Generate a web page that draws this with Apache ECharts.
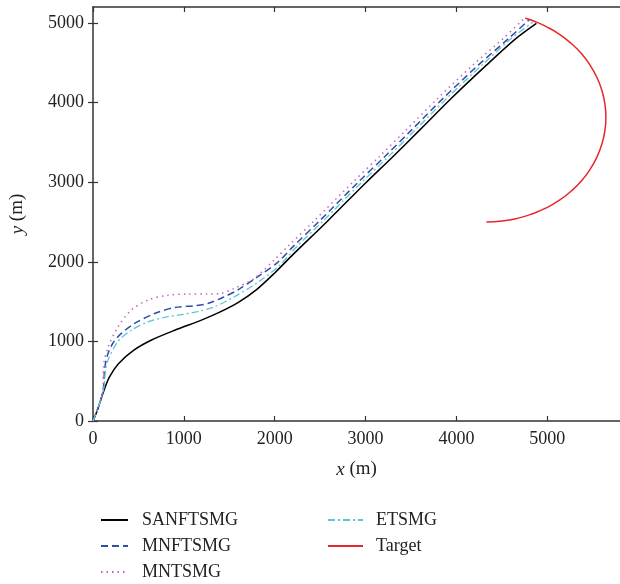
<!DOCTYPE html>
<html>
<head>
<meta charset="utf-8">
<script src="https://cdn.jsdelivr.net/npm/echarts@6/dist/echarts.min.js"></script>
<style>html,body{margin:0;padding:0;background:#fff;}#c{width:620px;height:584px;}</style>
</head>
<body>
<div id="c"></div>
<script>
var xTicks = [0, 1000, 2000, 3000, 4000, 5000];
var yTicks = [0, 1000, 2000, 3000, 4000, 5000];

var seriesNames = ['SANFTSMG', 'MNFTSMG', 'MNTSMG', 'ETSMG', 'Target'];

var sanftsmg = [[0,0],[50,140],[110,350],[180,550],[280,720],[450,890],[650,1020],[900,1140],[1200,1270],[1400,1370],[1600,1490],[1800,1650],[2000,1860],[2200,2090],[2580,2510],[3000,2990],[3300,3320],[3600,3660],[3950,4060],[4330,4470],[4650,4800],[4880,4995]];

var mnftsmg = [[0,0],[60,180],[112,390],[128,650],[160,830],[220,980],[312,1100],[458,1226],[678,1350],[897,1425],[1116,1448],[1263,1475],[1445,1560],[1592,1645],[1811,1811],[2030,1990],[2210,2200],[2490,2510],[2910,2990],[3210,3320],[3510,3660],[3860,4060],[4240,4470],[4570,4800],[4800,5040]];

var mntsmg = [[0,0],[60,180],[110,390],[115,680],[167,930],[276,1184],[422,1393],[605,1519],[825,1580],[1044,1594],[1263,1594],[1409,1603],[1555,1666],[1774,1791],[2000,2030],[2150,2200],[2430,2510],[2850,2990],[3150,3320],[3450,3660],[3800,4060],[4180,4470],[4510,4800],[4740,5050]];

var etsmg = [[0,0],[60,180],[115,390],[140,650],[170,780],[276,1000],[422,1140],[605,1245],[825,1310],[970,1335],[1153,1375],[1336,1435],[1555,1560],[1811,1740],[2050,1950],[2250,2200],[2530,2510],[2950,2990],[3250,3320],[3550,3660],[3900,4060],[4280,4470],[4600,4800],[4840,5010]];

var target = [[4330,2500],[4500,2511],[4670,2545],[4830,2600],[4988,2676],[5130,2770],[5260,2885],[5375,3015],[5469,3158],[5545,3312],[5600,3475],[5633,3643],[5645,3815],[5633,3987],[5600,4155],[5545,4318],[5469,4473],[5375,4615],[5260,4745],[5130,4860],[4988,4954],[4870,5015],[4758,5058]];

var FONT = 'Liberation Serif';
var axisColor = '#333';

var chart = echarts.init(document.getElementById('c'), null, {renderer: 'canvas'});

function lineSeries(name, data, color, type, width, smooth) {
  return {
    name: name, type: 'line', data: data, xAxisIndex: 0, yAxisIndex: 0,
    symbol: 'none', showSymbol: false, smooth: smooth, clip: false,
    lineStyle: {color: color, width: width, type: type},
    itemStyle: {color: color},
    emphasis: {disabled: true}
  };
}

var baseAxis = {
  min: 0,
  axisLine: {show: true, onZero: false, lineStyle: {color: axisColor, width: 1.5}},
  axisTick: {show: true, inside: true, length: 5, lineStyle: {color: axisColor, width: 1.2}},
  splitLine: {show: false}
};

function plain(v) { return String(v); }

var legendCommon = {
  orient: 'vertical', top: 510, height: 80, padding: 0, itemHeight: 14, itemGap: 6,
  itemStyle: {opacity: 0},
  selectedMode: false
};

chart.setOption({
  animation: false,
  grid: {left: 91, top: 7, width: 529, height: 414, show: false},
  xAxis: [
    Object.assign({}, baseAxis, {
      type: 'value', position: 'bottom', max: 5800, interval: 1000,
      axisTick: Object.assign({}, baseAxis.axisTick, {customValues: xTicks}),
      axisLabel: {customValues: xTicks, formatter: plain, color: '#222', fontFamily: FONT, fontSize: 18, margin: 9},
      name: '{i|x} (m)', nameLocation: 'middle', nameGap: 39,
      nameTextStyle: {color: '#222', fontFamily: FONT, fontSize: 19,
        rich: {i: {fontStyle: 'italic', fontFamily: FONT, fontSize: 19, color: '#222'}}}
    }),
    Object.assign({}, baseAxis, {
      type: 'value', position: 'top', max: 5800, interval: 1000,
      axisTick: Object.assign({}, baseAxis.axisTick, {customValues: xTicks}),
      axisLabel: {show: false}
    })
  ],
  yAxis: [
    Object.assign({}, baseAxis, {
      type: 'value', position: 'left', max: 5200, interval: 1000,
      axisTick: Object.assign({}, baseAxis.axisTick, {customValues: yTicks}),
      axisLabel: {customValues: yTicks, formatter: plain, color: '#222', fontFamily: FONT, fontSize: 18, margin: 9},
      name: '{i|y} (m)', nameLocation: 'middle', nameGap: 66, nameRotate: 90,
      nameTextStyle: {color: '#222', fontFamily: FONT, fontSize: 19,
        rich: {i: {fontStyle: 'italic', fontFamily: FONT, fontSize: 19, color: '#222'}}}
    }),
    Object.assign({}, baseAxis, {
      type: 'value', position: 'right', max: 5200, interval: 1000,
      axisLine: {show: false},
      axisTick: Object.assign({}, baseAxis.axisTick, {customValues: yTicks}),
      axisLabel: {show: false}
    })
  ],
  legend: [
    Object.assign({}, legendCommon, {
      data: [seriesNames[0], seriesNames[1], seriesNames[2]],
      left: 100, itemWidth: 27,
      textStyle: {fontFamily: FONT, fontSize: 18, color: '#222', lineHeight: 20, padding: [0,0,0,9]}
    }),
    Object.assign({}, legendCommon, {
      data: [seriesNames[3], seriesNames[4]],
      left: 327, itemWidth: 35,
      textStyle: {fontFamily: FONT, fontSize: 18, color: '#222', lineHeight: 20, padding: [0,0,0,8]}
    })
  ],
  series: [
    lineSeries(seriesNames[0], sanftsmg, '#000000', 'solid', 1.5, 0.3),
    lineSeries(seriesNames[1], mnftsmg, '#2f4fa5', [7, 4], 1.5, 0.3),
    lineSeries(seriesNames[2], mntsmg, '#cc5fbf', [1.5, 4], 1.5, 0.3),
    lineSeries(seriesNames[3], etsmg, '#5ec3d8', [7, 3, 2, 3], 1.3, 0.3),
    lineSeries(seriesNames[4], target, '#e8262a', 'solid', 1.5, true)
  ]
});
</script>
</body>
</html>
